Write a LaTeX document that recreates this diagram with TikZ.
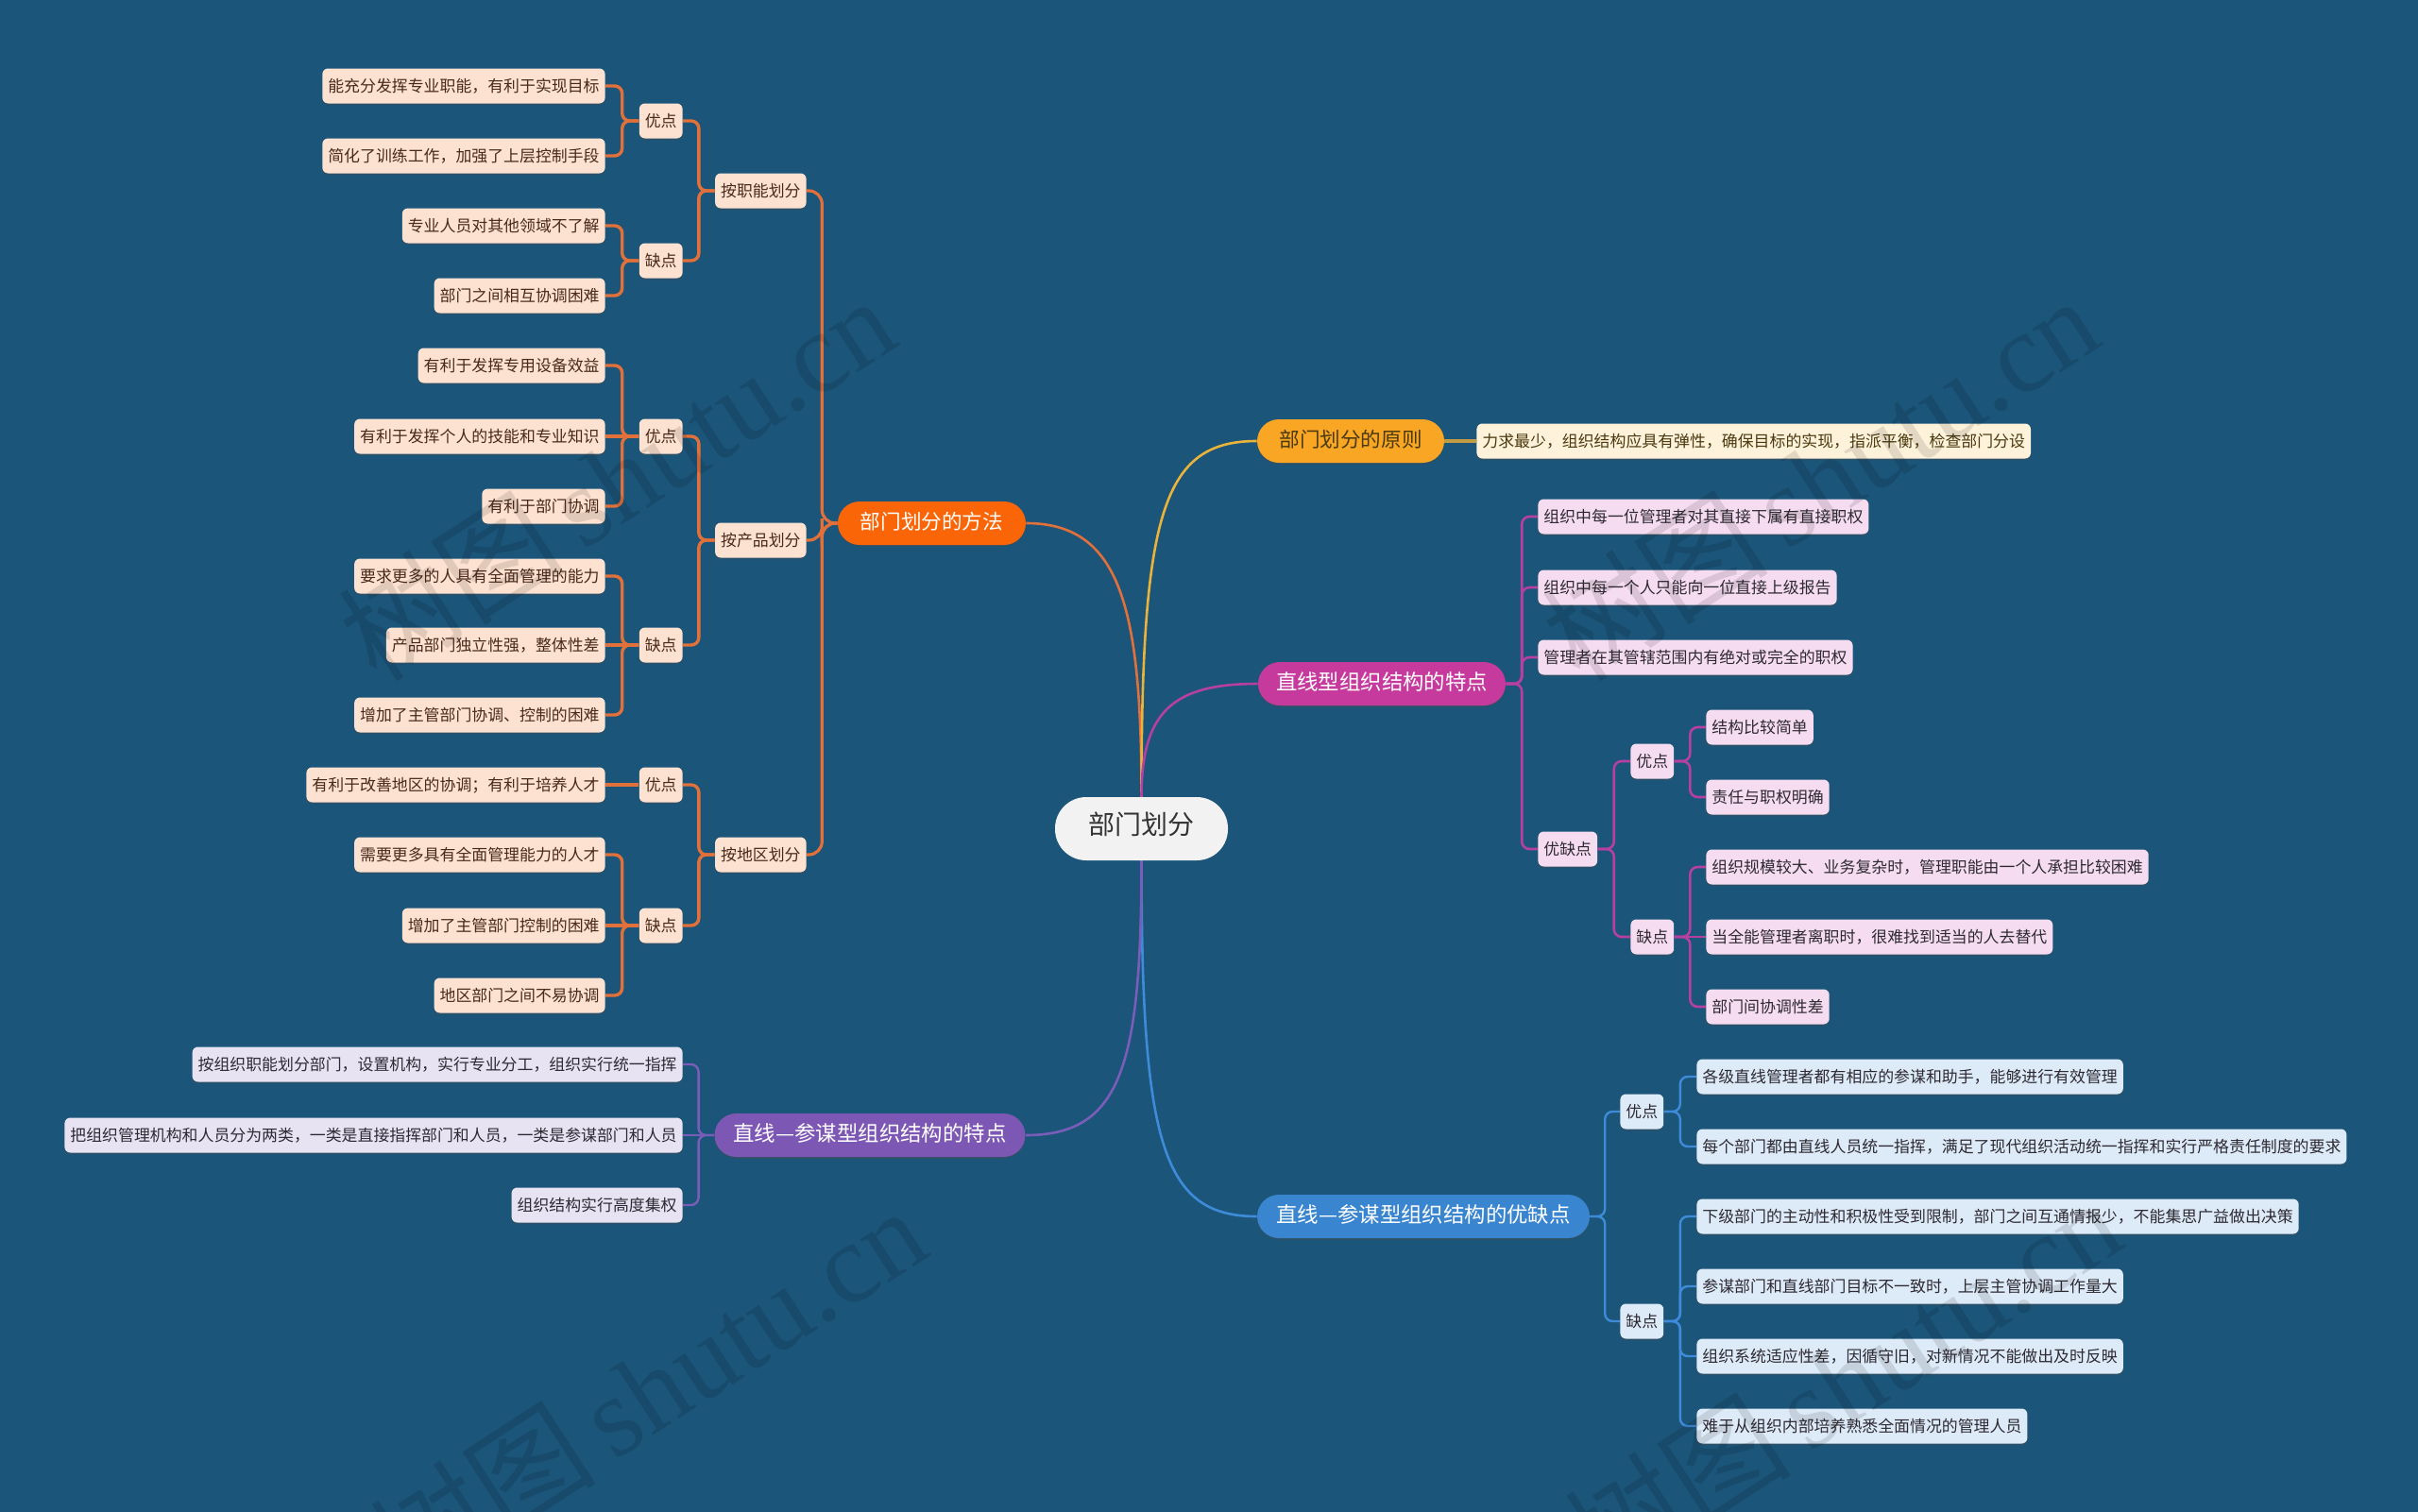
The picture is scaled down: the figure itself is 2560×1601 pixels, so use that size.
\documentclass[tikz,border=0pt]{standalone}
\usepackage{fontspec}
\setmainfont{Noto Sans CJK SC}
\newfontfamily\wmserif{Liberation Serif}
\usetikzlibrary{calc,shadows,backgrounds}
\definecolor{bg}{HTML}{1B5579}
\definecolor{rootfill}{HTML}{F2F2F2}
\definecolor{orgmain}{HTML}{FA6507}
\definecolor{orgline}{HTML}{E2703A}
\definecolor{orgleaf}{HTML}{FDE2D1}
\definecolor{orgtext}{HTML}{4A2A1A}
\definecolor{yelmain}{HTML}{F8A623}
\definecolor{yelline}{HTML}{EAB43C}
\definecolor{yelleaf}{HTML}{FEF2DA}
\definecolor{yeltext}{HTML}{4A3A10}
\definecolor{magmain}{HTML}{C63A9E}
\definecolor{magline}{HTML}{B63FA2}
\definecolor{magleaf}{HTML}{F6DCF1}
\definecolor{blumain}{HTML}{3A85CF}
\definecolor{bluline}{HTML}{3D8BD9}
\definecolor{bluleaf}{HTML}{DDEAF7}
\definecolor{purmain}{HTML}{7D57B4}
\definecolor{purline}{HTML}{7A5DB8}
\definecolor{purleaf}{HTML}{E8E3F3}
\definecolor{darktext}{HTML}{2E2A33}
\newcommand\elbow[3]{\draw[#1] (#2.east) -| ($(#2.east)!0.5!(#3.west)$) |- (#3.west);}
\newcommand\straight[3]{\draw[#1] (#2.east) -- (#3.west);}
\begin{document}
\begin{tikzpicture}[x=0.5pt,y=-0.5pt,
  shad/.style={drop shadow={shadow xshift=0pt, shadow yshift=-0.9pt, opacity=0.35, fill=black!70}},
  leafbase/.style={shad, rounded corners=3pt, minimum height=18.5pt, inner xsep=3pt, inner ysep=0pt,
    font=\fontsize{8.45pt}{10pt}\selectfont, text height=0.8em, text depth=0.16em},
  oleaf/.style={leafbase, fill=orgleaf, text=orgtext},
  yleaf/.style={leafbase, fill=yelleaf, text=yeltext},
  mleaf/.style={leafbase, fill=magleaf, text=darktext},
  bleaf/.style={leafbase, fill=bluleaf, text=darktext},
  pleaf/.style={leafbase, fill=purleaf, text=darktext},
  mainbase/.style={shad, rounded corners=11.5pt, minimum height=23pt, inner xsep=2pt, inner ysep=0pt,
    font=\fontsize{11.2pt}{13pt}\selectfont, text height=0.8em, text depth=0.16em},
  mainsmall/.style={mainbase, font=\fontsize{10.8pt}{13pt}\selectfont},
  rootnode/.style={fill=rootfill, text=black!80, rounded corners=16.5pt, minimum width=91.5pt,
    minimum height=33.5pt, inner sep=0pt, font=\fontsize{14pt}{16pt}\selectfont, text height=0.8em, text depth=0.16em},
  rootline/.style={line width=1.3pt},
  oline/.style={orgline, line width=1.7pt, rounded corners=4pt},
  omline/.style={orgline, line width=1.6pt, rounded corners=7pt},
  mline/.style={magline, line width=1.3pt, rounded corners=4pt},
  bline/.style={bluline, line width=1.2pt, rounded corners=4pt},
  pline/.style={purline, line width=1.2pt, rounded corners=4pt},
  wm/.style={rotate=33, opacity=0.11, text=black, font=\fontsize{60pt}{62pt}\selectfont}
]
\useasboundingbox (0,0) rectangle (2560,1601);

% root
\node[rootnode] (root) at (1208.5,877.5) {部门划分};

% main nodes
\node[mainsmall, fill=orgmain, text=white, minimum width=99.5pt] (omain) at (986.5,554) {部门划分的方法};
\node[mainsmall, fill=yelmain, text=yeltext, minimum width=99pt] (ymain) at (1430,467) {部门划分的原则};
\node[mainbase, fill=magmain, text=white, minimum width=131pt] (mmain) at (1463,724) {直线型组织结构的特点};
\node[mainbase, fill=blumain, text=white, minimum width=176pt] (bmain) at (1507,1288) {直线—参谋型组织结构的优缺点};
\node[mainbase, fill=purmain, text=white, minimum width=164.5pt] (pmain) at (921,1202) {直线—参谋型组织结构的特点};

% orange branch
\node[oleaf, anchor=east] (c1) at (854,202) {按职能划分};
\node[oleaf, anchor=east] (c2) at (854,572) {按产品划分};
\node[oleaf, anchor=east] (c3) at (854,905) {按地区划分};
\node[oleaf, anchor=east] (c1y) at (723,128) {优点};
\node[oleaf, anchor=east] (c1q) at (723,276) {缺点};
\node[oleaf, anchor=east] (c2y) at (723,462) {优点};
\node[oleaf, anchor=east] (c2q) at (723,683) {缺点};
\node[oleaf, anchor=east] (c3y) at (723,831) {优点};
\node[oleaf, anchor=east] (c3q) at (723,980) {缺点};
\node[oleaf, anchor=east] (l1) at (641,91) {能充分发挥专业职能，有利于实现目标};
\node[oleaf, anchor=east] (l2) at (641,165) {简化了训练工作，加强了上层控制手段};
\node[oleaf, anchor=east] (l3) at (641,239) {专业人员对其他领域不了解};
\node[oleaf, anchor=east] (l4) at (641,313) {部门之间相互协调困难};
\node[oleaf, anchor=east] (l5) at (641,387) {有利于发挥专用设备效益};
\node[oleaf, anchor=east] (l6) at (641,462) {有利于发挥个人的技能和专业知识};
\node[oleaf, anchor=east] (l7) at (641,536) {有利于部门协调};
\node[oleaf, anchor=east] (l8) at (641,610) {要求更多的人具有全面管理的能力};
\node[oleaf, anchor=east] (l9) at (641,683) {产品部门独立性强，整体性差};
\node[oleaf, anchor=east] (l10) at (641,757) {增加了主管部门协调、控制的困难};
\node[oleaf, anchor=east] (l11) at (641,831) {有利于改善地区的协调；有利于培养人才};
\node[oleaf, anchor=east] (l12) at (641,905) {需要更多具有全面管理能力的人才};
\node[oleaf, anchor=east] (l13) at (641,980) {增加了主管部门控制的困难};
\node[oleaf, anchor=east] (l14) at (641,1054) {地区部门之间不易协调};

% yellow branch
\node[yleaf, anchor=west] (y1) at (1563,467) {力求最少，组织结构应具有弹性，确保目标的实现，指派平衡，检查部门分设};

% magenta branch
\node[mleaf, anchor=west] (m1) at (1628,547) {组织中每一位管理者对其直接下属有直接职权};
\node[mleaf, anchor=west] (m2) at (1628,622) {组织中每一个人只能向一位直接上级报告};
\node[mleaf, anchor=west] (m3) at (1628,696) {管理者在其管辖范围内有绝对或完全的职权};
\node[mleaf, anchor=west] (m4) at (1628,899) {优缺点};
\node[mleaf, anchor=west] (my) at (1726,806) {优点};
\node[mleaf, anchor=west] (mq) at (1726,992) {缺点};
\node[mleaf, anchor=west] (my1) at (1806,770) {结构比较简单};
\node[mleaf, anchor=west] (my2) at (1806,844) {责任与职权明确};
\node[mleaf, anchor=west] (mq1) at (1806,918) {组织规模较大、业务复杂时，管理职能由一个人承担比较困难};
\node[mleaf, anchor=west] (mq2) at (1806,992) {当全能管理者离职时，很难找到适当的人去替代};
\node[mleaf, anchor=west] (mq3) at (1806,1066) {部门间协调性差};

% blue branch
\node[bleaf, anchor=west] (by) at (1715,1177) {优点};
\node[bleaf, anchor=west] (bq) at (1715,1399) {缺点};
\node[bleaf, anchor=west] (by1) at (1796,1140) {各级直线管理者都有相应的参谋和助手，能够进行有效管理};
\node[bleaf, anchor=west] (by2) at (1796,1214) {每个部门都由直线人员统一指挥，满足了现代组织活动统一指挥和实行严格责任制度的要求};
\node[bleaf, anchor=west] (bq1) at (1796,1288) {下级部门的主动性和积极性受到限制，部门之间互通情报少，不能集思广益做出决策};
\node[bleaf, anchor=west] (bq2) at (1796,1362) {参谋部门和直线部门目标不一致时，上层主管协调工作量大};
\node[bleaf, anchor=west] (bq3) at (1796,1436) {组织系统适应性差，因循守旧，对新情况不能做出及时反映};
\node[bleaf, anchor=west] (bq4) at (1796,1510) {难于从组织内部培养熟悉全面情况的管理人员};

% purple branch
\node[pleaf, anchor=east] (p1) at (723,1127) {按组织职能划分部门，设置机构，实行专业分工，组织实行统一指挥};
\node[pleaf, anchor=east] (p2) at (723,1202) {把组织管理机构和人员分为两类，一类是直接指挥部门和人员，一类是参谋部门和人员};
\node[pleaf, anchor=east] (p3) at (723,1276) {组织结构实行高度集权};

\begin{scope}[on background layer]
\fill[bg] (0,0) rectangle (2560,1601);
% root connectors
\draw[rootline, orgline] (root.north) .. controls +(0,-200) and +(100,0) .. (omain.east);
\draw[rootline, yelline] (root.north) .. controls +(0,-300) and +(-100,0) .. (ymain.west);
\draw[rootline, magline] (root.north) .. controls +(0,-90) and +(-90,0) .. (mmain.west);
\draw[rootline, bluline] (root.south) .. controls +(0,300) and +(-100,0) .. (bmain.west);
\draw[rootline, purline] (root.south) .. controls +(0,220) and +(100,0) .. (pmain.east);
% orange
\elbow{omline}{c1}{omain}
\elbow{omline}{c2}{omain}
\elbow{omline}{c3}{omain}
\elbow{oline}{c1y}{c1}
\elbow{oline}{c1q}{c1}
\elbow{oline}{c2y}{c2}
\elbow{oline}{c2q}{c2}
\elbow{oline}{c3y}{c3}
\elbow{oline}{c3q}{c3}
\elbow{oline}{l1}{c1y}
\elbow{oline}{l2}{c1y}
\elbow{oline}{l3}{c1q}
\elbow{oline}{l4}{c1q}
\elbow{oline}{l5}{c2y}
\straight{oline}{l6}{c2y}
\elbow{oline}{l7}{c2y}
\elbow{oline}{l8}{c2q}
\straight{oline}{l9}{c2q}
\elbow{oline}{l10}{c2q}
\straight{oline}{l11}{c3y}
\elbow{oline}{l12}{c3q}
\straight{oline}{l13}{c3q}
\elbow{oline}{l14}{c3q}
% yellow
\draw[yelline!80!black!90, line width=2pt] (ymain.east) -- (y1.west);
% magenta
\elbow{mline}{mmain}{m1}
\elbow{mline}{mmain}{m2}
\elbow{mline}{mmain}{m3}
\elbow{mline}{mmain}{m4}
\elbow{mline}{m4}{my}
\elbow{mline}{m4}{mq}
\elbow{mline}{my}{my1}
\elbow{mline}{my}{my2}
\elbow{mline}{mq}{mq1}
\straight{mline}{mq}{mq2}
\elbow{mline}{mq}{mq3}
% blue
\elbow{bline}{bmain}{by}
\elbow{bline}{bmain}{bq}
\elbow{bline}{by}{by1}
\elbow{bline}{by}{by2}
\elbow{bline}{bq}{bq1}
\elbow{bline}{bq}{bq2}
\elbow{bline}{bq}{bq3}
\elbow{bline}{bq}{bq4}
% purple
\elbow{pline}{p1}{pmain}
\straight{pline}{p2}{pmain}
\elbow{pline}{p3}{pmain}
\end{scope}

% watermarks
\node[wm] (w1) at (653,506) {树图\,{\wmserif shutu.cn}};
\node[wm] (w2) at (1927,506) {树图\,{\wmserif shutu.cn}};
\node[wm] (w3) at (686,1470) {树图\,{\wmserif shutu.cn}};
\node[wm] (w4) at (1951,1461) {树图\,{\wmserif shutu.cn}};
\end{tikzpicture}
\end{document}
